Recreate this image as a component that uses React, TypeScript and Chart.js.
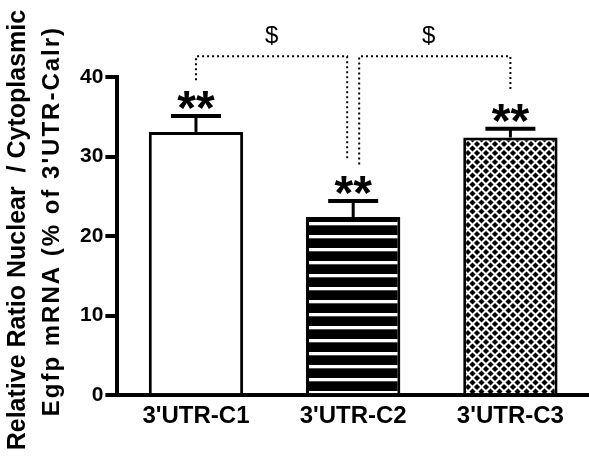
import React, { useEffect, useRef } from "react";
import { Chart, registerables } from "chart.js";

Chart.register(...registerables);

const categories = ["3'UTR-C1", "3'UTR-C2", "3'UTR-C3"];
const means = [33.1, 22.4, 32.4];
const sems = [2.0, 2.0, 1.1];
const stars = ["**", "**", "**"];
const yTicks = [0, 10, 20, 30, 40];
const yTitle = ["Relative Ratio Nuclear  / Cytoplasmic", "Egfp mRNA (% of 3'UTR-Calr)"];
// significance brackets: [from bar, to bar, drop level at from, drop level at to]
const bracketLevel = 42.6;
const dollarLevel = 45.1;
const brackets = [
  { from: 0, to: 1, fromEnd: 39.6, toEnd: 29.6, label: "$" },
  { from: 1, to: 2, fromEnd: 29.0, toEnd: 38.4, label: "$" },
];

const FONT = '"Liberation Sans", Arial, Helvetica, sans-serif';

function makeStripes(): CanvasPattern | string {
  const c = document.createElement("canvas");
  c.width = 8;
  c.height = 13;
  const g = c.getContext("2d");
  if (!g) return "#000";
  g.fillStyle = "#000";
  g.fillRect(0, 0, 8, 13);
  g.fillStyle = "#fff";
  g.fillRect(0, 1, 8, 3.3);
  return g.createPattern(c, "repeat") || "#000";
}

function makeDiamonds(): CanvasPattern | string {
  const s = 9;
  const c = document.createElement("canvas");
  c.width = s;
  c.height = s;
  const g = c.getContext("2d");
  if (!g) return "#000";
  g.fillStyle = "#fff";
  g.fillRect(0, 0, s, s);
  g.fillStyle = "#000";
  const r = 3.1;
  const centers = [
    [s / 2, s / 2],
    [0, 0],
    [s, 0],
    [0, s],
    [s, s],
  ];
  for (const [cx, cy] of centers) {
    g.beginPath();
    g.moveTo(cx, cy - r);
    g.lineTo(cx + r, cy);
    g.lineTo(cx, cy + r);
    g.lineTo(cx - r, cy);
    g.closePath();
    g.fill();
  }
  return g.createPattern(c, "repeat") || "#000";
}

const annotations = {
  id: "annotations",
  afterDatasetsDraw(chart: any) {
    const ctx = chart.ctx as CanvasRenderingContext2D;
    const y = chart.scales.y;
    const meta = chart.getDatasetMeta(0);
    const xs: number[] = meta.data.map((b: any) => b.x);
    ctx.save();
    ctx.strokeStyle = "#000";
    ctx.fillStyle = "#000";
    meta.data.forEach((bar: any, i: number) => {
      const cx = bar.x;
      const top = y.getPixelForValue(means[i]);
      const capY = y.getPixelForValue(means[i] + sems[i]);
      ctx.lineWidth = 3;
      ctx.beginPath();
      ctx.moveTo(cx, top);
      ctx.lineTo(cx, capY);
      ctx.stroke();
      ctx.lineWidth = 4;
      ctx.beginPath();
      ctx.moveTo(cx - 25, capY);
      ctx.lineTo(cx + 25, capY);
      ctx.stroke();
      ctx.font = `bold 48px ${FONT}`;
      ctx.textAlign = "center";
      ctx.textBaseline = "alphabetic";
      ctx.fillText(stars[i], cx, capY + 8);
    });

    ctx.setLineDash([2, 3]);
    ctx.lineWidth = 2;
    ctx.lineCap = "butt";
    const yTop = y.getPixelForValue(bracketLevel);
    brackets.forEach((b) => {
      const x1 = xs[b.from] + (b.from === 1 ? 6 : 0);
      const x2 = xs[b.to] - (b.to === 1 ? 6 : 0);
      ctx.beginPath();
      ctx.moveTo(x1, y.getPixelForValue(b.fromEnd));
      ctx.lineTo(x1, yTop);
      ctx.lineTo(x2, yTop);
      ctx.lineTo(x2, y.getPixelForValue(b.toEnd));
      ctx.stroke();
      ctx.font = `24px ${FONT}`;
      ctx.textAlign = "center";
      ctx.textBaseline = "middle";
      ctx.fillText(b.label, (x1 + x2) / 2 - (b.from === 1 ? 6 : 0), y.getPixelForValue(dollarLevel));
    });
    ctx.restore();
  },
  afterDraw(chart: any) {
    const ctx = chart.ctx as CanvasRenderingContext2D;
    const mid = (chart.chartArea.top + chart.chartArea.bottom) / 2;
    ctx.save();
    ctx.fillStyle = "#000";
    ctx.textAlign = "center";
    ctx.textBaseline = "alphabetic";
    // line 1
    ctx.save();
    ctx.translate(25, mid - 6);
    ctx.rotate(-Math.PI / 2);
    ctx.font = `bold 25px ${FONT}`;
    ctx.fillText(yTitle[0], 0, 0);
    ctx.restore();
    // line 2
    ctx.save();
    ctx.translate(59, mid - 15);
    ctx.rotate(-Math.PI / 2);
    ctx.font = `bold 24px ${FONT}`;
    (ctx as any).letterSpacing = "2px";
    ctx.fillText(yTitle[1], 0, 0);
    ctx.restore();
    ctx.restore();
  },
};

export default function App() {
  const ref = useRef<HTMLCanvasElement | null>(null);
  useEffect(() => {
    if (!ref.current) return;
    const fills = ["#ffffff", makeStripes(), makeDiamonds()];
    const chart = new Chart(ref.current, {
      type: "bar",
      data: {
        labels: categories,
        datasets: [
          {
            data: means,
            backgroundColor: fills as any,
            borderColor: "#000",
            borderWidth: 3,
            borderSkipped: "start",
            barPercentage: 0.6,
            categoryPercentage: 1,
          },
        ],
      },
      options: {
        responsive: false,
        animation: false,
        devicePixelRatio: 1,
        layout: { padding: { top: 77, bottom: 25, left: 78, right: 0 } },
        plugins: { legend: { display: false }, tooltip: { enabled: false } },
        scales: {
          x: {
            grid: { display: false, drawTicks: false },
            border: { display: true, color: "#000", width: 4 },
            ticks: {
              color: "#000",
              font: { family: FONT, size: 24, weight: "bold" },
              padding: 7,
              maxRotation: 0,
            },
          },
          y: {
            min: 0,
            max: 40,
            afterBuildTicks: (scale: any) => {
              scale.ticks = yTicks.map((v) => ({ value: v }));
            },
            grid: {
              display: true,
              drawOnChartArea: false,
              drawTicks: true,
              tickLength: 12,
              tickWidth: 4,
              tickColor: "#000",
              color: "#000",
              lineWidth: 4,
            },
            border: { display: true, color: "#000", width: 4 },
            ticks: {
              color: "#000",
              font: { family: FONT, size: 21, weight: "bold" },
              padding: 2,
            },
          },
        },
      },
      plugins: [annotations],
    });
    return () => chart.destroy();
  }, []);
  return (
    <div style={{ position: "fixed", left: 0, top: 0, width: 589, height: 463, background: "#fff" }}>
      <canvas ref={ref} width={589} height={463} />
    </div>
  );
}
